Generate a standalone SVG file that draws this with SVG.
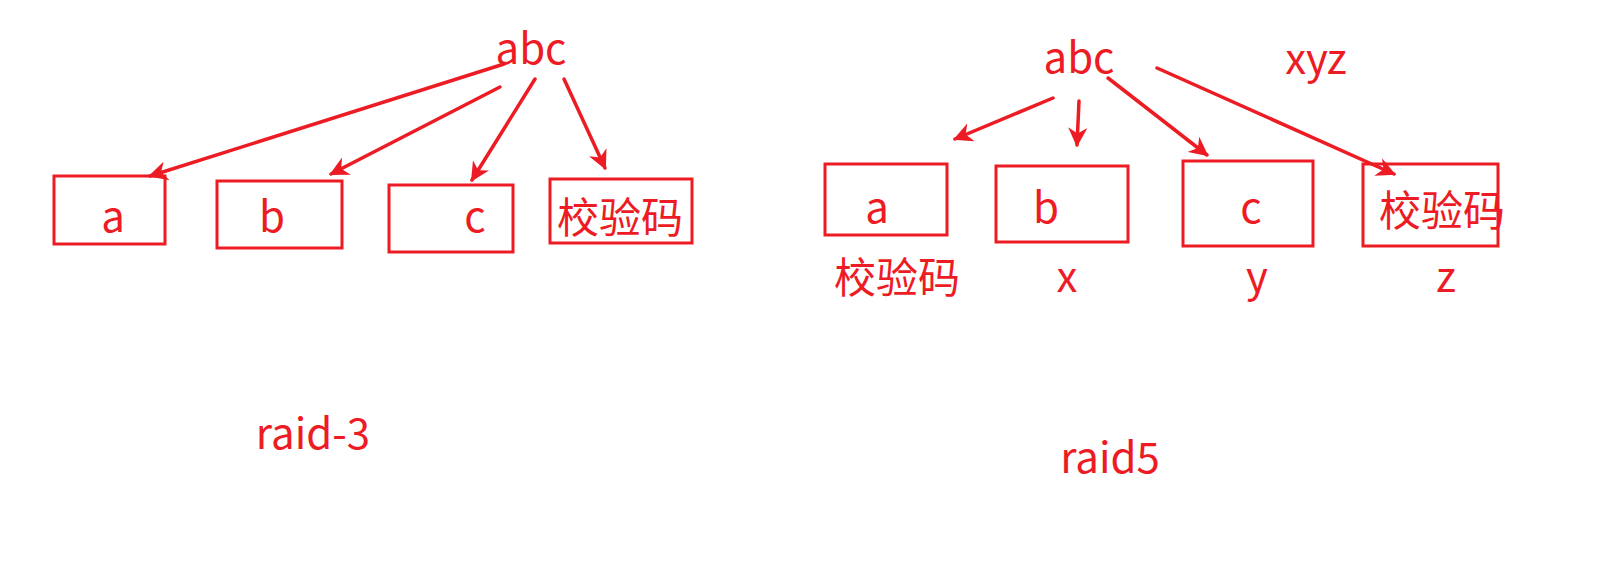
<svg xmlns="http://www.w3.org/2000/svg" width="1607" height="564" viewBox="0 0 1607 564">
<style>
.t{font-family:"Noto Sans CJK SC","Noto Sans",sans-serif;fill:#ED1C24;font-size:42px;text-anchor:middle}
.b{fill:none;stroke:#ED1C24;stroke-width:3}
.c{fill:none;stroke:#ED1C24;stroke-width:3.5;stroke-linecap:round}
</style>
<defs>
<marker id="ah" viewBox="0 0 10 10" refX="9" refY="5" markerWidth="5.5" markerHeight="5.5" orient="auto" markerUnits="strokeWidth">
<path d="M0,0 L10,5 L0,10 L3,5 Z" fill="#ED1C24"/>
</marker>
</defs>
<rect width="1607" height="564" fill="#fff"/>
<g id="l-abc"><text class="t" x="531" y="64">abc</text></g>
<g id="l-a"><rect class="b" x="54" y="176" width="111" height="68"/><text class="t" x="113" y="232">a</text></g>
<g id="l-b"><rect class="b" x="217" y="181" width="125" height="67"/><text class="t" x="272" y="232">b</text></g>
<g id="l-c"><rect class="b" x="389" y="185" width="124" height="67"/><text class="t" x="475" y="232">c</text></g>
<g id="l-p"><rect class="b" x="550" y="179" width="142" height="64"/><text class="t" x="620" y="233">校验码</text></g>
<g id="l-title"><text class="t" x="313" y="449">raid-3</text></g>
<g id="r-abc"><text class="t" x="1079" y="73">abc</text></g>
<g id="r-xyz"><text class="t" x="1316" y="74">xyz</text></g>
<g id="r-a"><rect class="b" x="825" y="164" width="122" height="71"/><text class="t" x="877" y="223">a</text></g>
<g id="r-b"><rect class="b" x="996" y="166" width="132" height="76"/><text class="t" x="1046" y="223">b</text></g>
<g id="r-c"><rect class="b" x="1183" y="161" width="130" height="85"/><text class="t" x="1251" y="223">c</text></g>
<g id="r-p"><rect class="b" x="1363" y="164" width="135" height="82"/><text class="t" x="1442" y="226">校验码</text></g>
<g id="r-pa"><text class="t" x="897" y="293">校验码</text></g>
<g id="r-x"><text class="t" x="1067" y="292">x</text></g>
<g id="r-y"><text class="t" x="1257" y="292">y</text></g>
<g id="r-z"><text class="t" x="1446" y="292">z</text></g>
<g id="r-title"><text class="t" x="1110" y="473">raid5</text></g>
<g id="connectors">
<line class="c" x1="504" y1="64" x2="150" y2="176" marker-end="url(#ah)"/>
<line class="c" x1="500" y1="87" x2="331" y2="174" marker-end="url(#ah)"/>
<line class="c" x1="535" y1="79" x2="472" y2="180" marker-end="url(#ah)"/>
<line class="c" x1="564" y1="79" x2="605" y2="168" marker-end="url(#ah)"/>
<line class="c" x1="1053" y1="98" x2="955" y2="139" marker-end="url(#ah)"/>
<line class="c" x1="1079" y1="101" x2="1077" y2="145" marker-end="url(#ah)"/>
<line class="c" x1="1108" y1="78" x2="1207" y2="155" marker-end="url(#ah)"/>
<line class="c" x1="1157" y1="68" x2="1394" y2="174" marker-end="url(#ah)"/>
</g>
</svg>
